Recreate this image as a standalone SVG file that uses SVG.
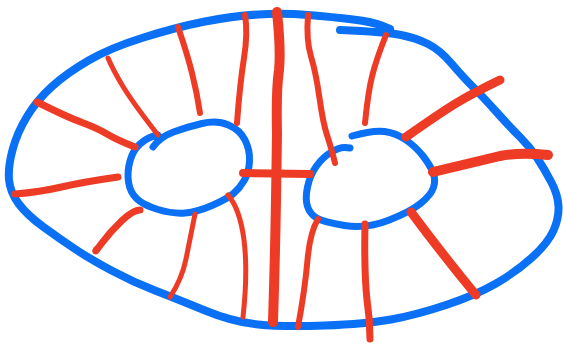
<svg xmlns="http://www.w3.org/2000/svg" width="566" height="344" viewBox="0 0 566 344">
<style>
.b{fill:none;stroke:#0A70F5;stroke-linecap:round;stroke-linejoin:round}
.r{fill:none;stroke:#EE3B26;stroke-linecap:round;stroke-linejoin:round}
</style>
<rect width="566" height="344" fill="#fff"/>
<g id="outer">
<path class="b" stroke-width="8" d="M340,30 Q386,32 401,35 Q416,38 428,44 Q440,50 451.5,63.5 Q463,77 473,87 Q483,97 496.5,112 Q510,127 520,137 Q530,147 537.5,158.5 Q545,170 551.5,182.5 Q558,195 558.5,206.5 Q559,218 553.5,230.5 Q548,243 532,257.5 Q516,272 496,283.5 Q476,295 446,305 Q416,315 391,319.5 Q366,324 324.5,325.5 Q283,327 258,324.5 Q233,322 205,310.5 Q177,299 155,290.5 Q133,282 111.5,270.5 Q90,259 75,249 Q60,239 43.5,227 Q27,215 18.5,203.5 Q10,192 9,179.5 Q8,167 12.5,150 Q17,133 27,116.5 Q37,100 52,86.5 Q67,73 88.5,60.5 Q110,48 143.5,37.5 Q177,27 205,21.5 Q233,16 258,14.5 Q283,13 308,15 Q333,17 353,19.5 Q373,22 381.5,25.5 L390,29"/>
</g>
<g id="left-hole">
<path class="b" stroke-width="7" d="M153,147 Q160,137 173.5,132 Q187,127 202,123.5 Q217,120 228.5,125 Q240,130 245,140 Q250,150 249.5,161 Q249,172 244.5,180 Q240,188 233.5,193.5 Q227,199 212,205.5 Q197,212 185,213 Q173,214 158,209.5 Q143,205 136.5,198.5 Q130,192 128.5,182 Q127,172 130,161 Q133,150 140,144 Q147,138 152.5,136.5 L158,135"/>
</g>
<g id="right-hole">
<path class="b" stroke-width="7" d="M352,136 Q373,130 384.5,131.5 Q396,133 406,140 Q416,147 423,156 Q430,165 433,172.5 Q436,180 433.5,187.5 Q431,195 420.5,203.5 Q410,212 388,220.5 Q366,229 344.5,225.5 Q323,222 316.5,218 Q310,214 307.5,206.5 Q305,199 307.5,187 Q310,175 316.5,166 Q323,157 331.5,152 Q340,147 345,147.5 L350,148"/>
</g>
<g id="field-lines">
<path class="r" stroke-width="7" d="M37,102 Q67,117 82,122.5 Q97,128 107,134 Q117,140 135,147"/>
<path class="r" stroke-width="5" d="M108,58 Q113,70 123,86.5 Q133,103 158,135"/>
<path class="r" stroke-width="6" d="M178,27 Q187,53 192,73 Q197,93 200,113"/>
<path class="r" stroke-width="6" d="M245,15 Q248,33 244,58 Q240,83 237,123"/>
<path class="r" stroke-width="10" d="M277,12 Q281,50 279,70 Q276,90 277,133 L276,200 Q275,260 273,322"/>
<path class="r" stroke-width="8" d="M243,173 L310,174"/>
<path class="r" stroke-width="6" d="M308,15 Q306,40 311,56.5 Q316,73 319.5,98 Q323,123 327,135 Q331,147 335,163"/>
<path class="r" stroke-width="6" d="M386,35 Q376,60 372,76.5 Q368,93 365,123"/>
<path class="r" stroke-width="9" d="M406,137 Q440,113 456.5,103 Q473,93 500,80"/>
<path class="r" stroke-width="10" d="M433,172 Q483,160 500,156 Q520,152 548,155"/>
<path class="r" stroke-width="7" d="M15,194 Q40,192 61.5,187 Q83,182 118,177"/>
<path class="r" stroke-width="7" d="M140,210 Q133,210 121.5,221 Q110,232 101.5,243.5 Q93,255 97,249"/>
<path class="r" stroke-width="5" d="M195,214 Q190,239 186,259 Q182,279 170,297"/>
<path class="r" stroke-width="5" d="M228,195 Q240,209 244,240 Q248,272 243,317"/>
<path class="r" stroke-width="6" d="M318,219 Q310,232 307.5,260 Q305,289 298,327"/>
<path class="r" stroke-width="7" d="M365,224 Q364,272 367,300 Q370,320 370,339"/>
<path class="r" stroke-width="9" d="M411,212 Q443,255 476,295"/>
</g>
</svg>
